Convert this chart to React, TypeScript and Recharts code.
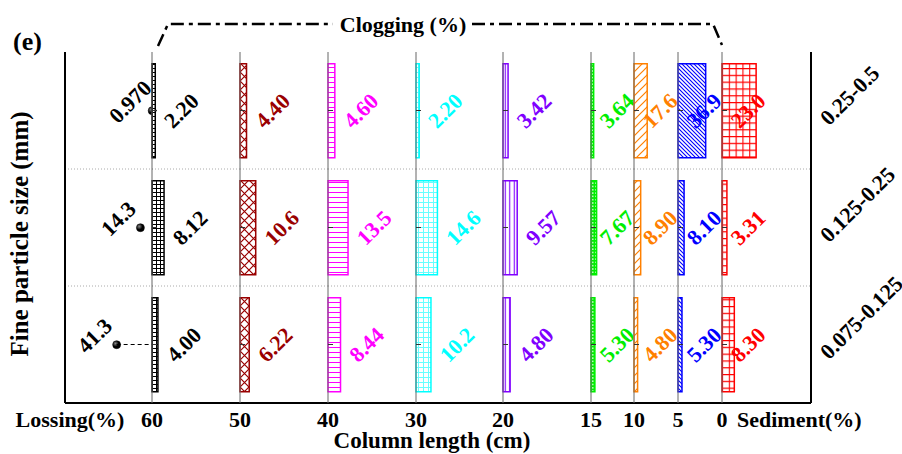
import React from "react";
import { BarChart, Bar, XAxis, YAxis, ReferenceLine, LabelList } from "recharts";

// fine particle size classes (rows, top to bottom)
const sizes = ["0.25-0.5", "0.125-0.25", "0.075-0.125"];
// lossing (%) per size class
const lossing = [0.97, 14.3, 41.3];
// clogging (%) per column segment
const clog60to50 = [2.2, 8.12, 4.0];
const clog50to40 = [4.4, 10.6, 6.22];
const clog40to30 = [4.6, 13.5, 8.44];
const clog30to20 = [2.2, 14.6, 10.2];
const clog20to15 = [3.42, 9.57, 4.8];
const clog15to10 = [3.64, 7.67, 5.3];
const clog10to5 = [17.6, 8.9, 4.8];
const clog5to0 = [36.9, 8.1, 5.3];
// sediment (%)
const sediment = [23.0, 3.31, 8.3];
// column length ticks (cm) at the left edge of each panel
const lengthTicks = [60, 50, 40, 30, 20, 15, 10, 5, 0];

const FONT = "'Liberation Serif', 'Times New Roman', serif";
const W = 902;
const H = 454;
const TOP = 52;
const BOTTOM = 403;
const LOSS_LEFT = 65;
const LOSS_W = 88;
const RIGHT_W = 90;
const LABEL_SIZE = 22;

const black2 = { stroke: "#000", strokeWidth: 2 };

const panels = [
  { id: "c60", values: clog60to50, color: "#000000", width: 88, atBar: true },
  { id: "c50", values: clog50to40, color: "#990000", width: 88, atBar: true },
  { id: "c40", values: clog40to30, color: "#ff00ff", width: 88, atBar: true },
  { id: "c30", values: clog30to20, color: "#00ffff", width: 87, atBar: true },
  { id: "c20", values: clog20to15, color: "#8000ff", width: 88, atBar: true },
  { id: "c15", values: clog15to10, color: "#00ee00", width: 43, atBar: false },
  { id: "c10", values: clog10to5, color: "#ff8000", width: 44, atBar: false },
  { id: "c5", values: clog5to0, color: "#0000ff", width: 44, atBar: false },
  { id: "sed", values: sediment, color: "#ff0000", width: 88, atBar: false },
];

const fmt = (v: number) => Number(v).toPrecision(3);

const rotText = (cx: number, cy: number, color: string, s: string) => (
  <text
    x={cx}
    y={cy}
    textAnchor="middle"
    dominantBaseline="central"
    transform={`rotate(-45 ${cx} ${cy})`}
    fill={color}
    fontFamily={FONT}
    fontWeight="bold"
    fontSize={LABEL_SIZE}
  >
    {s}
  </text>
);

const valueLabel = (color: string, atBar: boolean) => (props: any) => {
  const { x, y, width, height, value } = props;
  const cx = Number(x) + (atBar ? Number(width) : 0) + 26;
  const cy = Number(y) + Number(height) / 2;
  return rotText(cx, cy, color, fmt(value));
};

// lossing axis is reversed, so the value end is the left end of the bar box
const lossLabel = (props: any) => {
  const { x, y, width, height, value } = props;
  const end = Math.min(Number(x), Number(x) + Number(width));
  return rotText(end - 22, Number(y) + Number(height) / 2 - 9, "#000", fmt(value));
};

const lossDot = (props: any) => {
  const { x, y, width, height } = props;
  const end = Math.min(Number(x), Number(x) + Number(width));
  return <circle cx={end} cy={Number(y) + Number(height) / 2} r={4} fill="url(#ball)" stroke="#000" strokeWidth={0.5} />;
};

const rowTick = (props: any) => {
  const { x, y, payload } = props;
  const ax = Number(x) + 18;
  const ay = Number(y) + 16;
  return (
    <text
      x={ax}
      y={ay}
      transform={`rotate(-45 ${ax} ${ay})`}
      fill="#000"
      fontFamily={FONT}
      fontWeight="bold"
      fontSize={LABEL_SIZE}
    >
      {payload.value}
    </text>
  );
};

function Patterns() {
  return (
    <svg width={0} height={0} style={{ position: "absolute" }}>
      <defs>
        <radialGradient id="ball" cx="35%" cy="35%" r="65%">
          <stop offset="0%" stopColor="#888" />
          <stop offset="60%" stopColor="#000" />
        </radialGradient>
        <pattern id="pat-c60" width={4} height={4} patternUnits="userSpaceOnUse">
          <rect width={4} height={4} fill="#fff" />
          <path d="M0 0.5H4M0.5 0V4" stroke="#000" strokeWidth={1} />
        </pattern>
        <pattern id="pat-c50" width={9} height={9} patternUnits="userSpaceOnUse">
          <rect width={9} height={9} fill="#fff" />
          <path d="M0 0L9 9M9 0L0 9" stroke="#990000" strokeWidth={1.2} />
        </pattern>
        <pattern id="pat-c40" width={5} height={5} patternUnits="userSpaceOnUse">
          <rect width={5} height={5} fill="#fff" />
          <path d="M0 2.5H5" stroke="#ff00ff" strokeWidth={1} />
        </pattern>
        <pattern id="pat-c30" width={5} height={5} patternUnits="userSpaceOnUse">
          <rect width={5} height={5} fill="#fff" />
          <path d="M0 2.5H5M2.5 0V5" stroke="#66ffff" strokeWidth={1} />
        </pattern>
        <pattern id="pat-c20" width={4.5} height={4.5} patternUnits="userSpaceOnUse">
          <rect width={4.5} height={4.5} fill="#fff" />
          <path d="M2.25 0V4.5" stroke="#8000ff" strokeWidth={1.1} />
        </pattern>
        <pattern id="pat-c15" width={3.3} height={3.3} patternUnits="userSpaceOnUse">
          <rect width={3.3} height={3.3} fill="#00ee00" />
          <rect x={1} y={1} width={1.4} height={1.4} fill="#fff" />
        </pattern>
        <pattern id="pat-c10" width={8} height={8} patternUnits="userSpaceOnUse">
          <rect width={8} height={8} fill="#fff" />
          <path d="M0 8L8 0M-2 2L2 -2M6 10L10 6" stroke="#ff8000" strokeWidth={1.2} />
        </pattern>
        <pattern id="pat-c5" width={4} height={4} patternUnits="userSpaceOnUse">
          <rect width={4} height={4} fill="#fff" />
          <path d="M0 0L4 4M-1 3L1 5M3 -1L5 1" stroke="#0000ff" strokeWidth={1.1} />
        </pattern>
        <pattern id="pat-sed" width={6.8} height={6.8} patternUnits="userSpaceOnUse">
          <rect width={6.8} height={6.8} fill="#fff" />
          <path d="M0 0.5H6.8M0.5 0V6.8" stroke="#ff0000" strokeWidth={1.2} />
        </pattern>
      </defs>
    </svg>
  );
}

function LossPanel() {
  const data = sizes.map((s, i) => ({ size: s, v: lossing[i] }));
  return (
    <div style={{ position: "absolute", left: 0, top: 0 }}>
      <BarChart
        layout="vertical"
        width={LOSS_LEFT + LOSS_W}
        height={H}
        data={data}
        margin={{ top: TOP, right: 0, bottom: 0, left: 0 }}
        barCategoryGap="10%"
      >
        <XAxis type="number" domain={[0, 100]} reversed height={H - BOTTOM} tick={false} tickLine={false} axisLine={black2} />
        <XAxis xAxisId="top" orientation="top" type="number" domain={[0, 100]} height={0} tick={false} tickLine={false} axisLine={black2} />
        <YAxis type="category" dataKey="size" width={LOSS_LEFT} tick={false} tickLine={false} axisLine={black2} />
        <ReferenceLine y={sizes[1]} position="start" stroke="#aaa" strokeDasharray="1 2" />
        <ReferenceLine y={sizes[2]} position="start" stroke="#aaa" strokeDasharray="1 2" />
        <ReferenceLine
          segment={[
            { x: lossing[2], y: sizes[2] },
            { x: 0, y: sizes[2] },
          ]}
          stroke="#000"
          strokeDasharray="4 3"
        />
        <Bar dataKey="v" shape={lossDot} isAnimationActive={false}>
          <LabelList dataKey="v" content={lossLabel} />
        </Bar>
      </BarChart>
    </div>
  );
}

function ClogPanel({ p, left, tick, last }: any) {
  const data = sizes.map((s, i) => ({ size: s, v: p.values[i] }));
  const rightW = last ? RIGHT_W : 0;
  return (
    <div style={{ position: "absolute", left: left - 1, top: 0 }}>
      <BarChart
        layout="vertical"
        width={p.width + 1 + rightW}
        height={H}
        data={data}
        margin={{ top: TOP, right: 0, bottom: 0, left: 0 }}
        barCategoryGap="10%"
      >
        <XAxis
          type="number"
          domain={[0, 60]}
          height={H - BOTTOM}
          ticks={[0]}
          interval={0}
          tickFormatter={() => String(tick)}
          tickLine={false}
          tickSize={0}
          tickMargin={8}
          axisLine={black2}
          tick={{ fill: "#000", fontSize: 22, fontWeight: "bold", fontFamily: FONT }}
        />
        <XAxis xAxisId="top" orientation="top" type="number" domain={[0, 60]} height={0} tick={false} tickLine={false} axisLine={black2} />
        <YAxis
          type="category"
          dataKey="size"
          width={1}
          mirror
          tickSize={5}
          axisLine={{ stroke: "#666" }}
          tickLine={{ stroke: "#333" }}
          tick={() => null}
        />
        {last && (
          <YAxis
            yAxisId="r"
            orientation="right"
            type="category"
            dataKey="size"
            width={rightW}
            axisLine={black2}
            tickLine={false}
            tickSize={0}
            tickMargin={0}
            tick={rowTick}
          />
        )}
        <ReferenceLine y={sizes[1]} position="start" stroke="#aaa" strokeDasharray="1 2" />
        <ReferenceLine y={sizes[2]} position="start" stroke="#aaa" strokeDasharray="1 2" />
        <Bar dataKey="v" fill={`url(#pat-${p.id})`} stroke={p.color} strokeWidth={1.5} isAnimationActive={false}>
          <LabelList dataKey="v" content={valueLabel(p.color, p.atBar)} />
        </Bar>
      </BarChart>
    </div>
  );
}

export default function App() {
  const lefts: number[] = [];
  let acc = LOSS_LEFT + LOSS_W;
  panels.forEach((p) => {
    lefts.push(acc);
    acc += p.width;
  });
  const firstLeft = lefts[0];
  const sedLeft = lefts[lefts.length - 1];
  const txt = { fontFamily: FONT, fontWeight: "bold" as const, fill: "#000" };
  return (
    <div style={{ position: "absolute", left: 0, top: 0, width: W, height: H, background: "#fff", overflow: "hidden" }}>
      <style>{".recharts-surface{overflow:visible}"}</style>
      <Patterns />
      <LossPanel />
      {panels.map((p, i) => (
        <ClogPanel key={p.id} p={p} left={lefts[i]} tick={lengthTicks[i]} last={i === panels.length - 1} />
      ))}
      <svg width={W} height={H} style={{ position: "absolute", left: 0, top: 0, pointerEvents: "none" }}>
        <text x={13} y={50} fontSize={26} {...txt}>(e)</text>
        <text x={403} y={32} fontSize={22} textAnchor="middle" {...txt}>Clogging (%)</text>
        <polyline
          points={`${firstLeft + 5},46 ${firstLeft + 15},24 333,24`}
          fill="none"
          stroke="#000"
          strokeWidth={2.5}
          strokeDasharray="13 5 4 5"
        />
        <polyline
          points={`472,24 ${sedLeft - 10},24 ${sedLeft - 1},45`}
          fill="none"
          stroke="#000"
          strokeWidth={2.5}
          strokeDasharray="13 5 4 5"
        />
        <text x={70} y={427} fontSize={22} textAnchor="middle" {...txt}>Lossing(%)</text>
        <text x={sedLeft + 14} y={427} fontSize={22} {...txt}>Sediment(%)</text>
        <text x={432} y={448} fontSize={23} textAnchor="middle" {...txt}>Column length (cm)</text>
        <text x={28} y={234} fontSize={25} textAnchor="middle" transform="rotate(-90 28 234)" {...txt}>
          Fine particle size (mm)
        </text>
      </svg>
    </div>
  );
}
